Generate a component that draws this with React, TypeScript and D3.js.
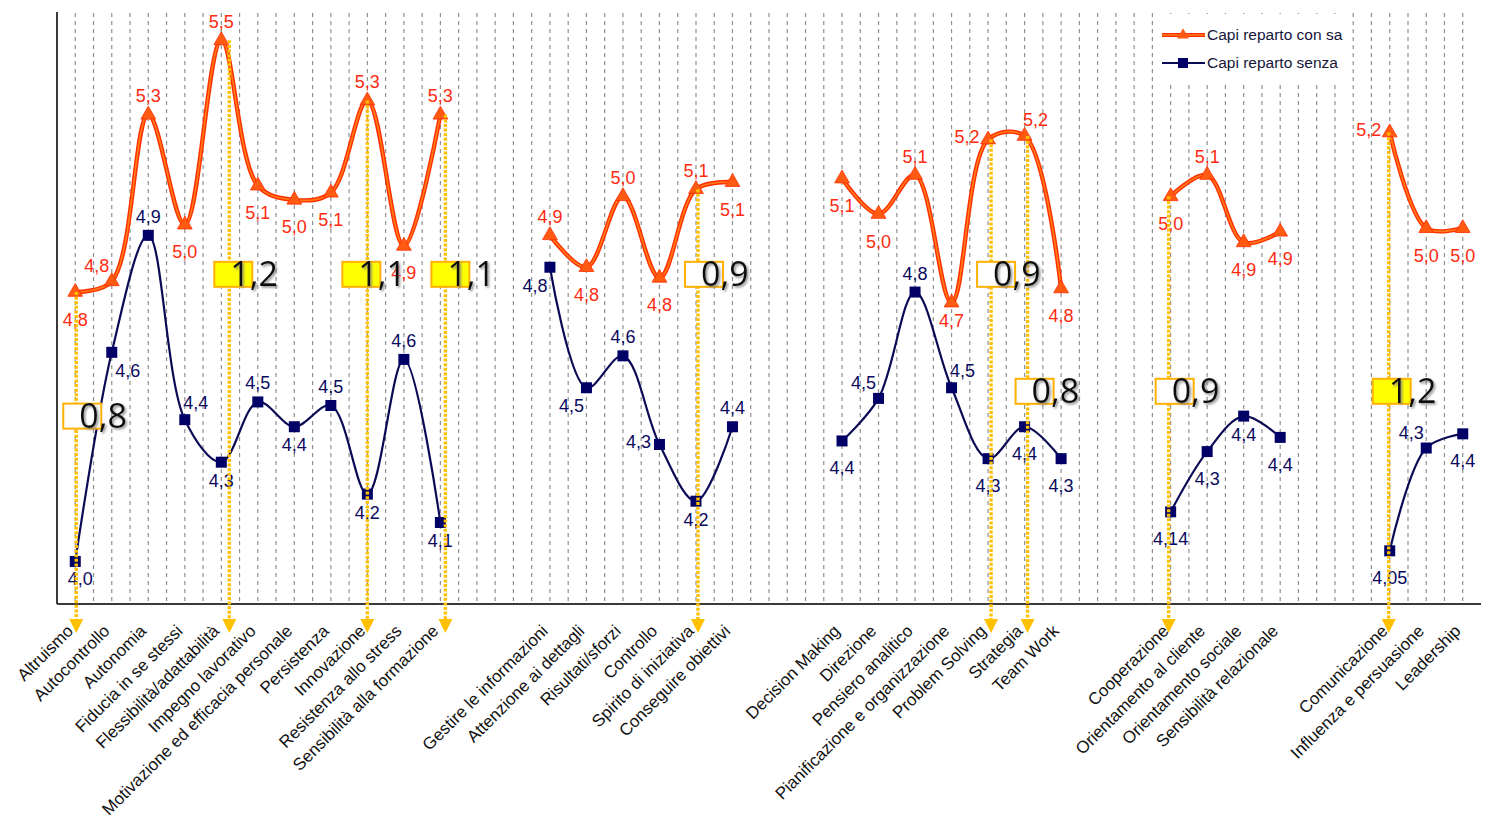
import React from "react";
import * as d3 from "d3";

const categories: string[] = [
  "Altruismo", "Autocontrollo", "Autonomia", "Fiducia in se stessi", "Flessibilità/adattabilità",
  "Impegno lavorativo", "Motivazione ed efficacia personale", "Persistenza", "Innovazione",
  "Resistenza allo stress", "Sensibilità alla formazione", "", "",
  "Gestire le informazioni", "Attenzione ai dettagli", "Risultati/sforzi", "Controllo",
  "Spirito di iniziativa", "Conseguire obiettivi", "", "",
  "Decision Making", "Direzione", "Pensiero analitico", "Pianificazione e organizzazione",
  "Problem Solving", "Strategia", "Team Work", "", "",
  "Cooperazione", "Orientamento al cliente", "Orientamento sociale", "Sensibilità relazionale", "", "",
  "Comunicazione", "Influenza e persuasione", "Leadership",
];

const conSa: (number | null)[] = [
  4.76, 4.79, 5.26, 4.95, 5.47, 5.06, 5.02, 5.04, 5.30, 4.89, 5.26, null, null,
  4.92, 4.83, 5.03, 4.80, 5.05, 5.07, null, null,
  5.08, 4.98, 5.09, 4.73, 5.19, 5.20, 4.77, null, null,
  5.03, 5.09, 4.90, 4.93, null, null,
  5.21, 4.94, 4.94,
];

const senza: (number | null)[] = [
  4.00, 4.59, 4.92, 4.40, 4.28, 4.45, 4.38, 4.44, 4.19, 4.57, 4.11, null, null,
  4.83, 4.49, 4.58, 4.33, 4.17, 4.38, null, null,
  4.34, 4.46, 4.76, 4.49, 4.29, 4.38, 4.29, null, null,
  4.14, 4.31, 4.41, 4.35, null, null,
  4.03, 4.32, 4.36,
];

const conSaLabels: string[] = [
  "4,8", "4,8", "5,3", "5,0", "5,5", "5,1", "5,0", "5,1", "5,3", "4,9", "5,3", "", "",
  "4,9", "4,8", "5,0", "4,8", "5,1", "5,1", "", "",
  "5,1", "5,0", "5,1", "4,7", "5,2", "5,2", "4,8", "", "",
  "5,0", "5,1", "4,9", "4,9", "", "",
  "5,2", "5,0", "5,0",
];

const senzaLabels: string[] = [
  "4,0", "4,6", "4,9", "4,4", "4,3", "4,5", "4,4", "4,5", "4,2", "4,6", "4,1", "", "",
  "4,8", "4,5", "4,6", "4,3", "4,2", "4,4", "", "",
  "4,4", "4,5", "4,8", "4,5", "4,3", "4,4", "4,3", "", "",
  "4,14", "4,3", "4,4", "4,4", "", "",
  "4,05", "4,3", "4,4",
];

// label placement codes (Excel-like: above, below, left ...)
const conSaPos: string[] = [
  "B", "al", "a", "B", "a", "B", "B", "B", "a", "B", "a", "", "",
  "a", "B", "a", "B", "a", "B", "", "",
  "B", "B", "a", "b", "l", "ar", "B", "", "",
  "B", "a", "B", "B", "", "",
  "l", "B", "B",
];
const senzaPos: string[] = [
  "br0", "br", "a", "ar", "b", "a", "b", "a", "b", "a", "b", "", "",
  "bl", "bl", "a", "l", "b", "a", "", "",
  "B", "al", "a", "ar", "B", "B", "B", "", "",
  "B", "B", "b", "B", "", "",
  "B", "al", "B",
];

const seriesNames = ["Capi reparto con sa", "Capi reparto senza"];

// difference call-outs
const diffCategories = [
  "Altruismo", "Flessibilità/adattabilità", "Innovazione", "Sensibilità alla formazione",
  "Spirito di iniziativa", "Problem Solving", "Strategia", "Cooperazione", "Comunicazione",
];
const diffTexts = ["0,8", "1,2", "1,1", "1,1", "0,9", "0,9", "0,8", "0,9", "1,2"];
const diffLevels = [4.41, 4.81, 4.81, 4.81, 4.81, 4.81, 4.48, 4.48, 4.48];
const diffBoxShift = [-12, -7, -25, -9, -11, -11, -9, -15, -17];
const diffArrowShift = [1, 8, 0, 5, 2, 3, 3, -2, -1];

const OFF: Record<string, [number, number]> = {
  a: [0, -19], b: [0, 18], B: [0, 27], l: [-21, -3], al: [-15, -16],
  ar: [11, -17], bl: [-15, 18], br: [16, 18], br0: [5, 17],
};

const ORANGE = "#FF5A12";
const ORANGE_DARK = "#FF3000";
const NAVY = "#0B0B55";
const GOLD = "#FFC000";

export default function App() {
  const left = 57, right = 1481, top = 12, bottom = 604;
  const x = d3.scalePoint<number>().domain(d3.range(categories.length)).range([left, right]).padding(0.5);
  const y = d3.scaleLinear().domain([3.88, 5.55]).range([bottom, top]);
  const step = x.step();

  const line = d3
    .line<[number, number | null]>()
    .defined((d) => d[1] != null)
    .x((d) => x(d[0]) as number)
    .y((d) => y(d[1] as number))
    .curve(d3.curveCatmullRom.alpha(0.5));

  const orangePath = line(conSa.map((v, i) => [i, v]))!;
  const navyPath = line(senza.map((v, i) => [i, v]))!;
  const tri = d3.symbol(d3.symbolTriangle, 95)()!;

  const grid: number[] = d3.range(1, categories.length * 2).map((k) => left + (k * step) / 2);

  const font = "'Liberation Sans', Arial, sans-serif";

  return (
    <svg width={1496} height={823} style={{ position: "absolute", left: 0, top: 0, background: "#fff" }}>
      <defs>
        <filter id="sh" x="-20%" y="-20%" width="140%" height="140%">
          <feDropShadow dx="1.6" dy="1.6" stdDeviation="0.8" floodColor="#7a7a7a" floodOpacity="0.85" />
        </filter>
      </defs>
      <rect x={0} y={0} width={1496} height={823} fill="#fff" />
      {/* gridlines */}
      {grid.map((gx, i) => (
        <line key={i} x1={gx} x2={gx} y1={top + 1} y2={bottom} stroke="#8f8f8f" strokeWidth={1.2} strokeDasharray="4 4" />
      ))}
      {/* axes */}
      <line x1={left} x2={left} y1={top} y2={bottom} stroke="#3a3a3a" strokeWidth={2} />
      <line x1={left} x2={right} y1={bottom} y2={bottom} stroke="#3a3a3a" strokeWidth={2} />

      {/* legend */}
      <g>
        <rect x={1158} y={14} width={192} height={67} fill="#fff" />
        <line x1={1162} x2={1205} y1={35} y2={35} stroke={ORANGE_DARK} strokeWidth={4} />
        <line x1={1162} x2={1205} y1={35} y2={35} stroke="#FF7A1A" strokeWidth={1.5} />
        <path d={tri} transform="translate(1183,35) scale(0.8)" fill={ORANGE} />
        <text x={1207} y={35} dy="0.35em" fontFamily={font} fontSize={15.5} fill="#15153a">{seriesNames[0]}</text>
        <line x1={1162} x2={1205} y1={63} y2={63} stroke={NAVY} strokeWidth={2.2} />
        <rect x={1178} y={58} width={10} height={10} fill="#000066" />
        <text x={1207} y={63} dy="0.35em" fontFamily={font} fontSize={15.5} fill="#15153a">{seriesNames[1]}</text>
      </g>

      {/* series lines */}
      <path d={navyPath} fill="none" stroke={NAVY} strokeWidth={2.2} />
      <path d={orangePath} fill="none" stroke={ORANGE_DARK} strokeWidth={4.4} />
      <path d={orangePath} fill="none" stroke="#FF7A1A" strokeWidth={1.6} />

      {/* markers */}
      {senza.map((v, i) =>
        v == null ? null : (
          <rect key={"s" + i} x={(x(i) as number) - 5.5} y={y(v) - 5.5} width={11} height={11} fill="#000066" />
        )
      )}
      {conSa.map((v, i) =>
        v == null ? null : (
          <path key={"c" + i} d={tri} transform={`translate(${x(i)},${y(v)})`} fill={ORANGE} stroke={ORANGE_DARK} strokeWidth={0.8} />
        )
      )}

      {/* data labels */}
      {conSa.map((v, i) => {
        if (v == null) return null;
        const o = OFF[conSaPos[i]];
        return (
          <text key={"lc" + i} x={(x(i) as number) + o[0]} y={y(v) + o[1]} dy="0.36em" textAnchor="middle" fontFamily={font} fontSize={18} fill="#FF2A10">
            {conSaLabels[i]}
          </text>
        );
      })}
      {senza.map((v, i) => {
        if (v == null) return null;
        const o = OFF[senzaPos[i]];
        return (
          <text key={"ls" + i} x={(x(i) as number) + o[0]} y={y(v) + o[1]} dy="0.36em" textAnchor="middle" fontFamily={font} fontSize={18} fill="#0A0A5E">
            {senzaLabels[i]}
          </text>
        );
      })}

      {/* arrows */}
      {diffCategories.map((c, k) => {
        const i = categories.indexOf(c);
        const ax = (x(i) as number) + diffArrowShift[k];
        const y0 = y(conSa[i] as number);
        return (
          <g key={"ar" + k}>
            <line x1={ax} x2={ax} y1={y0} y2={620} stroke={GOLD} strokeWidth={3.4} strokeDasharray="3 1.6" />
            <path d={`M${ax - 7},619 L${ax + 7},619 L${ax},633 Z`} fill={GOLD} />
          </g>
        );
      })}

      {/* difference boxes */}
      {diffCategories.map((c, k) => {
        const i = categories.indexOf(c);
        const bx = (x(i) as number) + diffBoxShift[k];
        const cy = y(diffLevels[k]);
        const big = diffTexts[k].startsWith("1");
        return (
          <g key={"bx" + k}>
            <rect x={bx} y={cy - 12.5} width={38} height={25} fill={big ? "#FFFF00" : "#fff"} stroke="#FFB000" strokeWidth={2} />
            <text x={bx + 16} y={cy + 12} fontFamily="'Open Sans', 'Noto Sans', sans-serif" fontSize={34} fill="#111" filter="url(#sh)">
              {diffTexts[k]}
            </text>
          </g>
        );
      })}

      {/* x axis labels */}
      {categories.map((c, i) =>
        c ? (
          <text
            key={"xl" + i}
            transform={`translate(${(x(i) as number) - 1},632) rotate(-45)`}
            textAnchor="end"
            fontFamily={font}
            fontSize={17}
            fill="#111"
          >
            {c}
          </text>
        ) : null
      )}
    </svg>
  );
}
